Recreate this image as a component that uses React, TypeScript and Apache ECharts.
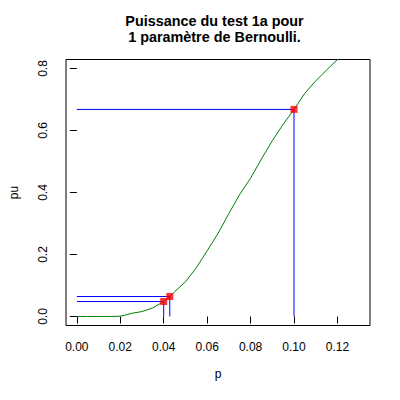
import React, { useEffect, useRef } from "react";
import * as echarts from "echarts";

const titleLines = ["Puissance du test 1a pour", "1 paramètre de Bernoulli."];
const xName = "p";
const yName = "pu";
const xTicks = [0, 0.02, 0.04, 0.06, 0.08, 0.1, 0.12];
const yTicks = [0, 0.2, 0.4, 0.6, 0.8];

const curveP = [
  0, 0.005, 0.01, 0.015, 0.02, 0.0225, 0.025, 0.03, 0.035, 0.04, 0.0428, 0.045,
  0.05, 0.055, 0.06, 0.065, 0.07, 0.075, 0.08, 0.085, 0.09, 0.095, 0.1, 0.105,
  0.11, 0.115, 0.12, 0.125,
];
const curvePu = [
  0, 0, 0, 0, 0.001, 0.005, 0.01, 0.016, 0.028, 0.0483, 0.0644, 0.08, 0.112,
  0.157, 0.212, 0.268, 0.332, 0.394, 0.446, 0.508, 0.567, 0.62, 0.668, 0.72,
  0.76, 0.795, 0.829, 0.862,
];

const markP = [0.04, 0.0428, 0.1];
const markPu = [0.0483, 0.0644, 0.668];

const FONT = "'Liberation Sans', Arial, Helvetica, sans-serif";

export default function App() {
  const ref = useRef<HTMLDivElement>(null);

  useEffect(() => {
    if (!ref.current) return;
    const chart = echarts.init(ref.current, null, { renderer: "svg" });

    const guideSeries = markP.map((p, i) => ({
      type: "line",
      data: [
        [0, markPu[i]],
        [p, markPu[i]],
        [p, 0],
      ],
      symbol: "none",
      lineStyle: { color: "#0000FF", width: 1 },
      z: 3,
    }));

    chart.setOption({
      animation: false,
      backgroundColor: "#ffffff",
      textStyle: { fontFamily: FONT },
      grid: {
        left: 59,
        right: 30,
        top: 59.5,
        bottom: 74.5,
        show: true,
        borderColor: "#000",
        borderWidth: 1,
        backgroundColor: "transparent",
        containLabel: false,
      },
      graphic: titleLines.map((t, i) => ({
        type: "text",
        x: 214.5,
        y: 20.7 + i * 16.6,
        style: {
          text: t,
          fontFamily: FONT,
          fontSize: 14.4,
          fontWeight: "bold",
          fill: "#000",
          align: "center",
          verticalAlign: "middle",
        },
      })),
      xAxis: {
        type: "value",
        min: -0.005,
        max: 0.135,
        name: xName,
        nameLocation: "middle",
        nameGap: 42,
        nameTextStyle: { fontSize: 12, color: "#000", fontFamily: FONT },
        axisLine: { show: false },
        splitLine: { show: false },
        axisTick: {
          show: true,
          length: 7,
          customValues: xTicks,
          lineStyle: { color: "#000", width: 1 },
        },
        axisLabel: {
          show: true,
          customValues: xTicks,
          margin: 15,
          fontSize: 12,
          color: "#000",
          fontFamily: FONT,
          formatter: (v: number) => v.toFixed(2),
        },
      },
      yAxis: {
        type: "value",
        min: -0.029,
        max: 0.829,
        name: yName,
        nameLocation: "middle",
        nameGap: 46,
        nameTextStyle: { fontSize: 12, color: "#000", fontFamily: FONT },
        axisLine: { show: false },
        splitLine: { show: false },
        axisTick: {
          show: true,
          length: 7,
          customValues: yTicks,
          lineStyle: { color: "#000", width: 1 },
        },
        axisLabel: {
          show: true,
          customValues: yTicks,
          rotate: 90,
          align: "center",
          verticalAlign: "bottom",
          margin: 17,
          fontSize: 12,
          color: "#000",
          fontFamily: FONT,
          formatter: (v: number) => v.toFixed(1),
        },
      },
      series: [
        {
          type: "line",
          data: curveP.map((p, i) => [p, curvePu[i]]),
          symbol: "none",
          clip: true,
          lineStyle: { color: "#008000", width: 1 },
          z: 2,
        },
        ...guideSeries,
        {
          type: "scatter",
          data: markP.map((p, i) => [p, markPu[i]]),
          symbol: "rect",
          symbolSize: 7,
          itemStyle: { color: "#FF0000" },
          z: 5,
        },
      ],
    });

    return () => chart.dispose();
  }, []);

  return (
    <div
      ref={ref}
      style={{ position: "absolute", left: 0, top: 0, width: 400, height: 400 }}
    />
  );
}
